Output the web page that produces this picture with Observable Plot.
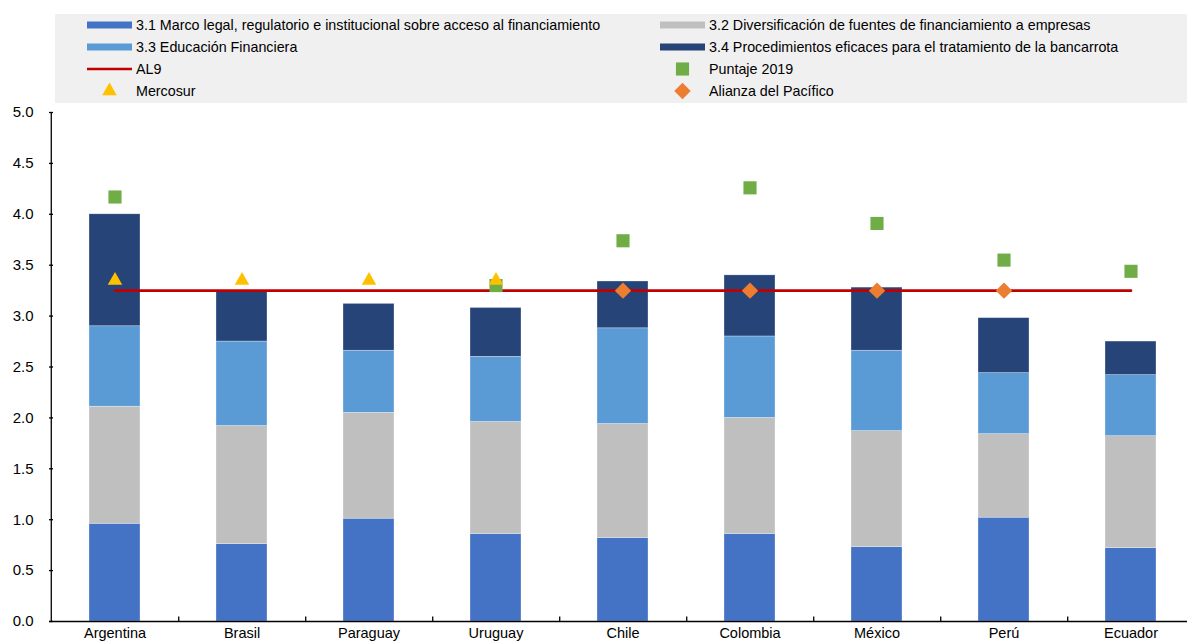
<!DOCTYPE html>
<html>
<head>
<meta charset="utf-8">
<script src="https://cdn.jsdelivr.net/npm/d3@7"></script>
<script src="https://cdn.jsdelivr.net/npm/@observablehq/plot@0.6"></script>
<style>
  html, body { margin: 0; padding: 0; background: #fff; overflow: hidden; }
  #wrap { position: relative; width: 1187px; height: 641px; }
  #legend { position: absolute; left: 55px; top: 14px; width: 1132px; height: 89px; background: #f0f0f0; z-index: 2;
            font-family: "Liberation Sans", Arial, sans-serif; font-size: 14.3px; color: #000; }
  .item { position: absolute; height: 22px; display: flex; align-items: center; white-space: nowrap; }
  .item svg { display: block; margin-right: 4px; }
  #chart { position: absolute; left: 0; top: 0; z-index: 1; }
</style>
</head>
<body>
<div id="wrap">
  <div id="legend"></div>
  <div id="chart"></div>
</div>
<script>
// ---- data ----
const categories = ["Argentina", "Brasil", "Paraguay", "Uruguay", "Chile", "Colombia", "México", "Perú", "Ecuador"];
const seriesNames = [
  "3.1 Marco legal, regulatorio e institucional sobre acceso al financiamiento",
  "3.2 Diversificación de fuentes de financiamiento a empresas",
  "3.3 Educación Financiera",
  "3.4 Procedimientos eficaces para el tratamiento de la bancarrota"
];
const s31 = [0.96, 0.76, 1.01, 0.86, 0.82, 0.86, 0.73, 1.02, 0.72];
const s32 = [1.15, 1.16, 1.04, 1.10, 1.12, 1.14, 1.14, 0.82, 1.10];
const s33 = [0.79, 0.83, 0.61, 0.64, 0.94, 0.80, 0.79, 0.60, 0.60];
const s34 = [1.10, 0.50, 0.46, 0.48, 0.46, 0.60, 0.62, 0.54, 0.33];
const al9 = [3.25, 3.25, 3.25, 3.25, 3.25, 3.25, 3.25, 3.25, 3.25];
const puntaje2019 = [4.17, null, null, 3.30, 3.74, 4.26, 3.91, 3.55, 3.44];
const mercosur = [3.35, 3.35, 3.35, 3.35, null, null, null, null, null];
const alianza = [null, null, null, null, 3.25, 3.25, 3.25, 3.25, null];
const yTicks = [0, 0.5, 1, 1.5, 2, 2.5, 3, 3.5, 4, 4.5, 5];

// ---- styles ----
const barColors = ["#4472C4", "#BFBFBF", "#5B9BD5", "#264478"];
const lineColor = "#C00000";
const greenColor = "#70AD47";
const yellowColor = "#FFC000";
const orangeColor = "#ED7D31";
const FONT = '"Liberation Sans", Arial, sans-serif';

// ---- tables ----
const seriesValues = [s31, s32, s33, s34];
const stacked = [];
seriesNames.forEach((s, si) => categories.forEach((c, ci) => stacked.push({cat: c, series: s, value: seriesValues[si][ci]})));
const rows = categories.map((c, i) => ({cat: c, al9: al9[i], p2019: puntaje2019[i], merc: mercosur[i], ali: alianza[i]}));

const W = 1187, H = 641;
const xRange = [49, 1196];
const step = (xRange[1] - xRange[0]) / 9;

const plot = Plot.plot({
  width: W,
  height: H,
  marginTop: 112,
  marginBottom: 20,
  marginLeft: 49,
  marginRight: 0,
  style: {background: "transparent", fontFamily: FONT, color: "#000"},
  x: {type: "band", domain: categories, range: xRange, paddingInner: 0.6, paddingOuter: 0.3, label: null},
  y: {domain: [0, 5], label: null},
  color: {domain: seriesNames, range: barColors},
  marks: [
    Plot.barY(stacked, {x: "cat", y: "value", fill: "series", order: seriesNames, stroke: "#ffffff", strokeOpacity: 0.5, strokeWidth: 0.6}),
    Plot.line(rows, {x: "cat", y: "al9", stroke: lineColor, strokeWidth: 2.6}),
    Plot.dot(rows.filter(d => d.p2019 != null), {x: "cat", y: "p2019", symbol: "square", r: 7.4, fill: greenColor}),
    Plot.dot(rows.filter(d => d.merc != null), {x: "cat", y: "merc", symbol: "triangle", r: 5.4, fill: yellowColor}),
    Plot.dot(rows.filter(d => d.ali != null), {x: "cat", y: "ali", symbol: "diamond2", r: 7.4, fill: orangeColor}),
    // axis lines
    Plot.ruleY([0], {stroke: "#000", strokeWidth: 1.3}),
    Plot.ruleX([categories[0]], {x: d => d, dx: -step / 2, y1: 0, y2: 5, stroke: "#000", strokeWidth: 1.3}),
    // category boundary ticks on x axis
    Plot.ruleX(categories.slice(0, -1), {x: d => d, dx: step / 2, y1: 0, y2: 0.045, stroke: "#000", strokeWidth: 1.3}),
    Plot.axisY(yTicks, {tickSize: -4, tickPadding: 20, tickFormat: d3.format(".1f"), fontSize: 15, stroke: "#000", strokeWidth: 1.3}),
    Plot.axisX({tickSize: 0, tickPadding: 6, fontSize: 14.5})
  ]
});
document.getElementById("chart").appendChild(plot);

// ---- legend ----
const legendItems = [
  {label: seriesNames[0], kind: "bar", color: barColors[0], col: 0, row: 0},
  {label: seriesNames[1], kind: "bar", color: barColors[1], col: 1, row: 0},
  {label: seriesNames[2], kind: "bar", color: barColors[2], col: 0, row: 1},
  {label: seriesNames[3], kind: "bar", color: barColors[3], col: 1, row: 1},
  {label: "AL9", kind: "line", color: lineColor, col: 0, row: 2},
  {label: "Puntaje 2019", kind: "square", color: greenColor, col: 1, row: 2},
  {label: "Mercosur", kind: "triangle", color: yellowColor, col: 0, row: 3},
  {label: "Alianza del Pacífico", kind: "diamond2", color: orangeColor, col: 1, row: 3}
];
const symbolMap = {square: [d3.symbolSquare, 7.4], triangle: [d3.symbolTriangle, 5.4], diamond2: [d3.symbolDiamond2, 7.4]};
const legend = document.getElementById("legend");
legendItems.forEach(it => {
  const div = document.createElement("div");
  div.className = "item";
  div.style.left = (it.col === 0 ? 32 : 605) + "px";
  div.style.top = (it.row * 22) + "px";
  const sw = 45;
  let svg = `<svg width="${sw}" height="22" viewBox="0 0 ${sw} 22">`;
  if (it.kind === "bar") svg += `<rect x="0" y="7.5" width="${sw}" height="7" fill="${it.color}"/>`;
  else if (it.kind === "line") svg += `<line x1="0" x2="${sw}" y1="11" y2="11" stroke="${it.color}" stroke-width="2.6"/>`;
  else {
    const [sym, r] = symbolMap[it.kind];
    svg += `<path transform="translate(${sw / 2},11)" d="${d3.symbol(sym, r * r * Math.PI)()}" fill="${it.color}"/>`;
  }
  svg += `</svg>`;
  div.innerHTML = svg + `<span>${it.label}</span>`;
  legend.appendChild(div);
});
</script>
</body>
</html>
